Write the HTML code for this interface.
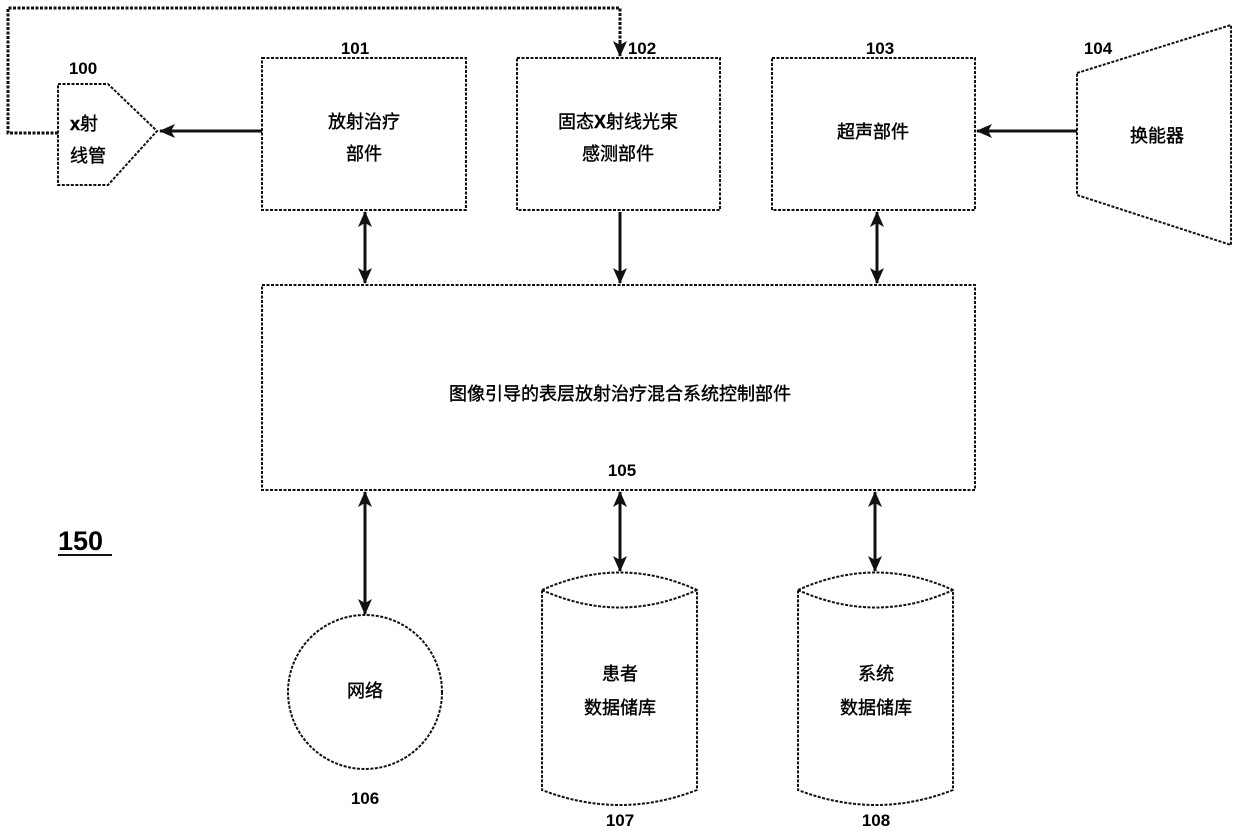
<!DOCTYPE html>
<html><head><meta charset="utf-8"><style>
body{margin:0;background:#fff}
svg text{font-family:"Liberation Sans","Noto Sans CJK SC",sans-serif;fill:#000}
.n{font-weight:bold;font-size:17px}
.t{font-size:18px;stroke:#000;stroke-width:0.4}
</style></head><body>
<svg width="1240" height="829" viewBox="0 0 1240 829" xmlns="http://www.w3.org/2000/svg">
<defs>
<marker id="A" markerWidth="16" markerHeight="16" refX="15" refY="8" orient="auto-start-reverse" markerUnits="userSpaceOnUse" viewBox="0 0 16 16"><path d="M0,1 L16,8 L0,15 L4,8 Z" fill="#111"/></marker>
</defs>
<g fill="none" stroke="#111" stroke-width="2" stroke-dasharray="3,1.5">
<path d="M58,133 L8,133 L8,8 L620,8 L620,42" stroke-width="3"/>
<polygon points="58,84 108,84 157,131 108,185 58,185"/>
<rect x="262" y="58" width="204" height="152"/>
<rect x="517" y="58" width="203" height="152"/>
<rect x="772" y="58" width="203" height="152"/>
<polygon points="1077,73 1231,25 1231,245 1077,195"/>
<rect x="262" y="285" width="713" height="205"/>
<circle cx="365" cy="692" r="77"/>
<path d="M542,590 Q620,555 697,590 L697,790 Q620,820 542,790 Z M542,590 Q620,625 697,590"/>
<path d="M798,590 Q876,555 953,590 L953,790 Q876,820 798,790 Z M798,590 Q876,625 953,590"/>
</g>
<g stroke="#111" stroke-width="3" fill="none">
<line x1="620" y1="40" x2="620" y2="56" marker-end="url(#A)"/>
<line x1="262" y1="131" x2="160" y2="131" marker-end="url(#A)"/>
<line x1="1077" y1="131" x2="977" y2="131" marker-end="url(#A)"/>
<line x1="365" y1="212" x2="365" y2="283" marker-start="url(#A)" marker-end="url(#A)"/>
<line x1="620" y1="212" x2="620" y2="283" marker-end="url(#A)"/>
<line x1="877" y1="212" x2="877" y2="283" marker-start="url(#A)" marker-end="url(#A)"/>
<line x1="365" y1="492" x2="365" y2="614" marker-start="url(#A)" marker-end="url(#A)"/>
<line x1="620" y1="492" x2="620" y2="571" marker-start="url(#A)" marker-end="url(#A)"/>
<line x1="875" y1="492" x2="875" y2="571" marker-start="url(#A)" marker-end="url(#A)"/>
</g>
<text class="n" x="83" y="74" text-anchor="middle">100</text>
<text class="n" x="355" y="54" text-anchor="middle">101</text>
<text class="n" x="642" y="54" text-anchor="middle">102</text>
<text class="n" x="880" y="54" text-anchor="middle">103</text>
<text class="n" x="1098" y="54" text-anchor="middle">104</text>
<text class="n" x="622" y="476" text-anchor="middle">105</text>
<text class="n" x="365" y="804" text-anchor="middle">106</text>
<text class="n" x="620" y="826" text-anchor="middle">107</text>
<text class="n" x="876" y="826" text-anchor="middle">108</text>
<text x="58" y="550" font-size="27" font-weight="bold">150</text>
<line x1="58" y1="555" x2="112" y2="555" stroke="#111" stroke-width="2"/>
<text class="t" x="70" y="130"><tspan font-weight="bold">x</tspan>射</text>
<text class="t" x="70" y="162">线管</text>
<text class="t" x="364" y="128" text-anchor="middle">放射治疗</text>
<text class="t" x="364" y="160" text-anchor="middle">部件</text>
<text class="t" x="618" y="128" text-anchor="middle">固态<tspan font-weight="bold">X</tspan>射线光束</text>
<text class="t" x="618" y="160" text-anchor="middle">感测部件</text>
<text class="t" x="873" y="138" text-anchor="middle">超声部件</text>
<text class="t" x="1157" y="142" text-anchor="middle">换能器</text>
<text class="t" x="620" y="400" text-anchor="middle">图像引导的表层放射治疗混合系统控制部件</text>
<text class="t" x="365" y="697" text-anchor="middle">网络</text>
<text class="t" x="620" y="680" text-anchor="middle">患者</text>
<text class="t" x="620" y="714" text-anchor="middle">数据储库</text>
<text class="t" x="876" y="680" text-anchor="middle">系统</text>
<text class="t" x="876" y="714" text-anchor="middle">数据储库</text>
</svg>
</body></html>
